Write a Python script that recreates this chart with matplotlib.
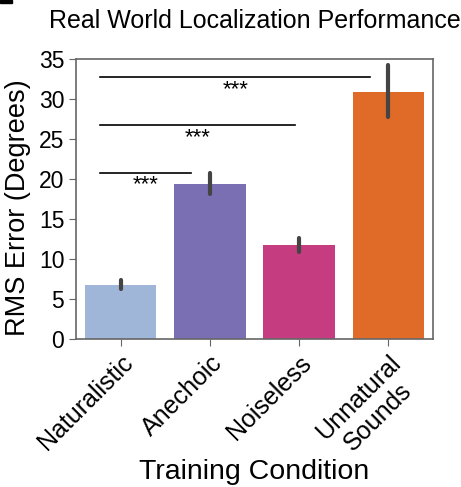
import matplotlib
matplotlib.use("Agg")
import matplotlib.pyplot as plt
from matplotlib.patches import Rectangle

plt.rcParams['font.family'] = ['Liberation Sans', 'DejaVu Sans']

conditions = ['Naturalistic', 'Anechoic', 'Noiseless', 'Unnatural\nSounds']
rms_error = [6.7, 19.4, 11.7, 30.9]
ci_low = [6.2, 18.1, 10.9, 27.7]
ci_high = [7.4, 20.7, 12.6, 34.3]
colors = ['#a0b6d8', '#7b6fb4', '#c63c80', '#e06a28']

# significance brackets: (end position, height)
sig_ends = [0.79, 1.95, 2.8]
sig_heights = [20.8, 26.7, 32.7]
sig_start = -0.23

fig = plt.figure(figsize=(4.61, 4.87), dpi=100)
ax = fig.add_axes([0.165, 0.304, 0.774, 0.575])

x = list(range(len(conditions)))
ax.bar(x, rms_error, width=0.8, color=colors)
for i in x:
    ax.plot([i, i], [ci_low[i], ci_high[i]], color='#444444', lw=3, solid_capstyle='round')

for end, h in zip(sig_ends, sig_heights):
    ax.plot([sig_start, end], [h, h], color='black', lw=1.2)
    ax.text((sig_start + end) / 2, h - 0.2, '***', ha='center', va='top', fontsize=16)

ax.set_xlim(-0.5, 3.5)
ax.set_ylim(0, 35)
ax.set_yticks(range(0, 36, 5))
ax.set_xticks(x)
ax.set_xticklabels(conditions, rotation=45, ha='right', rotation_mode='anchor', ma='center')
ax.tick_params(color='#666666', length=5)
ax.tick_params(axis='y', labelsize=16.5)
ax.tick_params(axis='x', labelsize=18)
for s in ax.spines.values():
    s.set_color('#666666')
    s.set_linewidth(1.2)

ax.set_ylabel('RMS Error (Degrees)', fontsize=19.5)
ax.yaxis.set_label_coords(-0.125, 0.47)
ax.set_xlabel('Training Condition', fontsize=20.5, labelpad=-4)
ax.set_title('Real World Localization Performance', fontsize=18, pad=22)

fig.patches.append(Rectangle((0, 1 - 3 / 487), 12 / 461, 3 / 487, transform=fig.transFigure,
                             color='black', figure=fig))

fig.savefig('out.png', dpi=100)
